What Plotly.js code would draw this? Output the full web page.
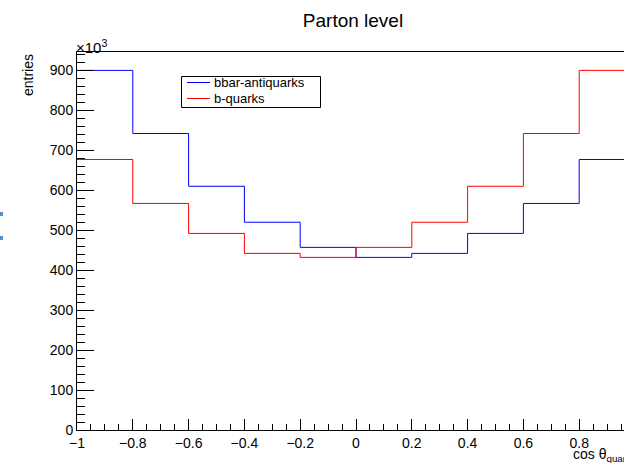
<!DOCTYPE html>
<html>
<head>
<meta charset="utf-8">
<script src="https://cdn.plot.ly/plotly-3.0.1.min.js"></script>
<style>
html,body{margin:0;padding:0;background:#fff;}
#chart{width:624px;height:463px;}
</style>
</head>
<body>
<div id="chart"></div>
<script>
// Bin edges of cos(theta_quark) histogram
const binEdges = [-1.0, -0.8, -0.6, -0.4, -0.2, 0.0, 0.2, 0.4, 0.6, 0.8, 1.0];
// Entries per bin, in units of 10^3
const bbarAntiquarks = [900, 742, 610, 520, 457, 432, 442, 492, 567, 677];
const bQuarks        = [677, 567, 492, 442, 432, 457, 520, 610, 742, 900];
const seriesNames = ['bbar-antiquarks', 'b-quarks'];
const seriesColors = ['#0000ff', '#ff0000'];
const yTickVals = [0, 100, 200, 300, 400, 500, 600, 700, 800, 900];
const xTickVals = [-1, -0.8, -0.6, -0.4, -0.2, 0, 0.2, 0.4, 0.6, 0.8];

function stepTrace(counts, name, color) {
  const xs = binEdges.slice();
  const ys = counts.concat([counts[counts.length - 1]]);
  return {
    x: xs, y: ys, name: name, type: 'scatter', mode: 'lines',
    line: {shape: 'hv', color: color, width: 1},
    hoverinfo: 'skip', showlegend: false
  };
}

const data = [
  stepTrace(bbarAntiquarks, seriesNames[0], seriesColors[0]),
  stepTrace(bQuarks, seriesNames[1], seriesColors[1])
];

const W = 547, H = 378, L = 77, T = 52;
function px(x) { return (x - L) / W; }
function py(y) { return (T + H - y) / H; }

const font = {family: 'Liberation Sans, Arial, Helvetica, sans-serif', color: '#000'};

// Legend box drawn in ROOT style (box, line samples, labels)
const shapes = [
  {type: 'rect', xref: 'paper', yref: 'paper', x0: px(181.5), x1: px(320.5), y0: py(76.5), y1: py(107.5),
   line: {color: '#000', width: 1}, fillcolor: '#fff', layer: 'above'},
  // small blue marks at left edge of picture
  {type: 'rect', xref: 'paper', yref: 'paper', x0: px(0), x1: px(3), y0: py(212), y1: py(216),
   line: {width: 0}, fillcolor: '#5b8bd0'},
  {type: 'rect', xref: 'paper', yref: 'paper', x0: px(0), x1: px(3), y0: py(236), y1: py(240),
   line: {width: 0}, fillcolor: '#5b8bd0'}
];
const legendRowY = [82.5, 98.5];
const annotations = [];
seriesNames.forEach(function (name, i) {
  shapes.push({type: 'line', xref: 'paper', yref: 'paper', x0: px(187), x1: px(210),
    y0: py(legendRowY[i]), y1: py(legendRowY[i]), line: {color: seriesColors[i], width: 1}, layer: 'above'});
  annotations.push({text: name, xref: 'paper', yref: 'paper', x: px(212), y: py(legendRowY[i] + 0.5),
    xanchor: 'left', yanchor: 'middle', showarrow: false, font: Object.assign({size: 13}, font)});
});

annotations.push(
  {text: '×10<sup>3</sup>', xref: 'paper', yref: 'paper', x: px(74), y: py(58),
   xanchor: 'left', yanchor: 'bottom', showarrow: false, font: Object.assign({size: 15}, font)},
  {text: 'entries', xref: 'paper', yref: 'paper', x: px(28), y: py(75),
   xanchor: 'center', yanchor: 'middle', textangle: -90, showarrow: false,
   font: Object.assign({size: 14}, font)},
  {text: 'cos θ<sub>quark</sub>', xref: 'paper', yref: 'paper', x: px(571), y: py(455),
   xanchor: 'left', yanchor: 'middle', showarrow: false, font: Object.assign({size: 14}, font)}
);

const layout = {
  width: 624, height: 463,
  margin: {l: L, r: 0, t: T, b: 463 - T - H, pad: 0},
  paper_bgcolor: '#fff', plot_bgcolor: '#fff',
  font: Object.assign({size: 14}, font),
  showlegend: false,
  title: {
    text: 'Parton level',
    font: Object.assign({size: 19}, font),
    x: 353 / 624, xref: 'container', xanchor: 'center',
    y: 1 - 20 / 463, yref: 'container', yanchor: 'middle'
  },
  xaxis: {
    range: [-1, -1 + 547 / 279],
    showgrid: false, zeroline: false,
    showline: true, linecolor: '#000', linewidth: 1, mirror: true,
    ticks: 'inside', ticklen: 11, tickwidth: 1, tickcolor: '#000',
    tickmode: 'array', tickvals: xTickVals,
    tickfont: Object.assign({size: 14}, font),
    minor: {dtick: 0.05, tick0: -1, ticks: 'inside', ticklen: 6, tickwidth: 1, tickcolor: '#000'}
  },
  yaxis: {
    range: [0, 946],
    showgrid: false, zeroline: false,
    showline: true, linecolor: '#000', linewidth: 1, mirror: false,
    ticks: 'inside', ticklen: 17, tickwidth: 1, tickcolor: '#000',
    tickmode: 'array', tickvals: yTickVals,
    tickfont: Object.assign({size: 14}, font),
    minor: {dtick: 20, tick0: 0, ticks: 'inside', ticklen: 8, tickwidth: 1, tickcolor: '#000'}
  },
  shapes: shapes,
  annotations: annotations
};

Plotly.newPlot('chart', data, layout, {displayModeBar: false, staticPlot: true});
</script>
</body>
</html>
